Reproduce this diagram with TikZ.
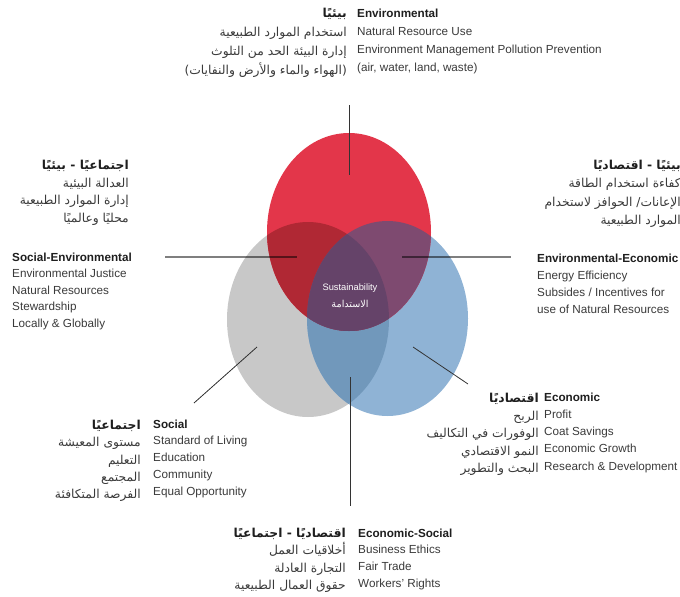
\documentclass[tikz,border=0pt]{standalone}
\usepackage{fontspec}
\setmainfont{Liberation Sans}
\newfontfamily\arabicfont[Script=Arabic]{DejaVu Sans}
\TeXXeTstate=1
\definecolor{cred}{HTML}{E3364A}
\definecolor{cgray}{HTML}{C8C8C8}
\definecolor{cblue}{HTML}{8FB3D5}
\definecolor{crg}{HTML}{B02834}
\definecolor{crb}{HTML}{7E4A70}
\definecolor{cgb}{HTML}{7198BB}
\definecolor{crgb}{HTML}{654369}
\definecolor{txt}{HTML}{3A3A3A}
\definecolor{hd}{HTML}{1E1E1E}
\newcommand\ar[1]{{\arabicfont\beginR #1\endR}}
\newcommand\arh[1]{{\color{hd}\arabicfont\bfseries\beginR #1\endR}}
\newcommand\enh[1]{{\color{hd}\bfseries #1}}
\newcommand\enblock[2]{\fontsize{11.7}{#1}\selectfont\begin{tabular}[t]{@{}l@{}}#2\end{tabular}}
\newcommand\arblock[2]{\fontsize{12.3}{#1}\selectfont\begin{tabular}[t]{@{}r@{}}#2\end{tabular}}
\tikzset{
  en/.style={anchor=base west, inner sep=0pt, text=txt},
  arb/.style={anchor=base east, inner sep=0pt, text=txt},
  leader/.style={draw=black!80, line width=0.8pt},
  bar/.style={draw=black, draw opacity=0.5, line width=1.6pt},
}
\begin{document}
\begin{tikzpicture}[x=1pt,y=-1pt]
\useasboundingbox (0,0) rectangle (680,597);
% ellipses
\def\redE{(349,232) ellipse [x radius=82, y radius=99]}
\def\grayE{(308,319.5) ellipse [x radius=81, y radius=97.5]}
\def\blueE{(387.5,318.5) ellipse [x radius=80.5, y radius=97.5]}
\fill[cgray] \grayE;
\fill[cblue] \blueE;
\fill[cred] \redE;
\begin{scope}
  \clip \grayE;
  \fill[cgb] \blueE;
\end{scope}
\begin{scope}
  \clip \redE;
  \fill[crg] \grayE;
  \fill[crb] \blueE;
\end{scope}
\begin{scope}
  \clip \redE;
  \clip \grayE;
  \fill[crgb] \blueE;
\end{scope}
% connector coordinates
\coordinate (t1) at (349,105); \coordinate (t2) at (349,175);
\coordinate (l1) at (165,257); \coordinate (l2) at (297,257);
\coordinate (r1) at (402,257); \coordinate (r2) at (511,257);
\coordinate (ll1) at (257,347); \coordinate (ll2) at (194,403);
\coordinate (lr1) at (413,347); \coordinate (lr2) at (468,384);
\coordinate (b1) at (350,377); \coordinate (b2) at (350,506);
\draw[leader] (t1) -- (t2);
\draw[bar] (l1) -- (l2);
\draw[bar] (r1) -- (r2);
\draw[leader] (ll1) -- (ll2);
\draw[leader] (lr1) -- (lr2);
\draw[leader] (b1) -- (b2);
% center
\node[inner sep=0pt, text=white, font=\fontsize{9.3}{11}\selectfont] (sus) at (350,288) {Sustainability};
\node[inner sep=0pt, text=white, font=\fontsize{9.6}{11}\selectfont] (susar) at (350,304) {\ar{الاستدامة}};
% top block
\node[en] (envEN) at (357,17.2) {\enblock{18}{\enh{Environmental}\\ Natural Resource Use\\ Environment Management Pollution Prevention\\ (air, water, land, waste)}};
\node[arb] (envAR) at (347,17.5) {\arblock{19}{\arh{بيئيًا}\\ \ar{استخدام الموارد الطبيعية}\\ \ar{إدارة البيئة الحد من التلوث}\\ \ar{(الهواء والماء والأرض والنفايات)}}};
% social-environmental
\node[arb] (seAR) at (129,169.5) {\arblock{17.7}{\arh{اجتماعيًا - بيئيًا}\\ \ar{العدالة البيئية}\\ \ar{إدارة الموارد الطبيعية}\\ \ar{محليًا وعالميًا}}};
\node[en] (seEN) at (12,261.2) {\enblock{16.5}{\enh{Social-Environmental}\\ Environmental Justice\\ Natural Resources\\ Stewardship\\ Locally \& Globally}};
% environmental-economic
\node[arb] (eeAR) at (681,169.5) {\arblock{18.3}{\arh{بيئيًا - اقتصاديًا}\\ \ar{كفاءة استخدام الطاقة}\\ \ar{الإعانات/ الحوافز لاستخدام}\\ \ar{الموارد الطبيعية}}};
\node[en] (eeEN) at (537,262) {\enblock{17.3}{\enh{Environmental-Economic}\\ Energy Efficiency\\ Subsides / Incentives for\\ use of Natural Resources}};
% economic
\node[en] (ecEN) at (544,401.2) {\enblock{17.25}{\enh{Economic}\\ Profit\\ Coat Savings\\ Economic Growth\\ Research \& Development}};
\node[arb] (ecAR) at (539,402.5) {\arblock{17.5}{\arh{اقتصاديًا}\\ \ar{الربح}\\ \ar{الوفورات في التكاليف}\\ \ar{النمو الاقتصادي}\\ \ar{البحث والتطوير}}};
% social
\node[en] (soEN) at (153,428.2) {\enblock{16.75}{\enh{Social}\\ Standard of Living\\ Education\\ Community\\ Equal Opportunity}};
\node[arb] (soAR) at (141,429.5) {\arblock{17.25}{\arh{اجتماعيًا}\\ \ar{مستوى المعيشة}\\ \ar{التعليم}\\ \ar{المجتمع}\\ \ar{الفرصة المتكافئة}}};
% economic-social
\node[en] (esEN) at (358,537.2) {\enblock{16.7}{\enh{Economic-Social}\\ Business Ethics\\ Fair Trade\\ Workers' Rights}};
\node[arb] (esAR) at (346,537.5) {\arblock{17.3}{\arh{اقتصاديًا - اجتماعيًا}\\ \ar{أخلاقيات العمل}\\ \ar{التجارة العادلة}\\ \ar{حقوق العمال الطبيعية}}};
\end{tikzpicture}
\end{document}
